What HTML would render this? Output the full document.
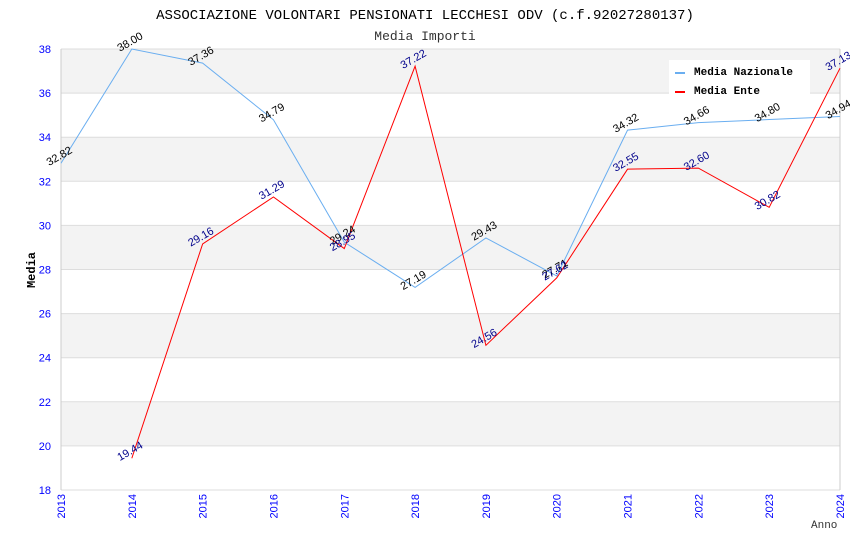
<!DOCTYPE html>
<html><head><meta charset="utf-8"><style>
body{margin:0;background:#fff;width:850px;height:550px;overflow:hidden}
svg text{font-family:"Liberation Sans",sans-serif}
.mono{font-family:"Liberation Mono",monospace}
</style></head><body>
<svg id="c" width="850" height="550">
<text class="mono" x="425" y="19" text-anchor="middle" font-size="14" fill="#000">ASSOCIAZIONE VOLONTARI PENSIONATI LECCHESI ODV (c.f.92027280137)</text>
<text class="mono" x="425" y="40" text-anchor="middle" font-size="13" fill="#333">Media Importi</text>
<g id="bands"></g><g id="grid"></g><g id="axes"></g><g id="series"></g><g id="labels"></g>
<text class="mono" x="35" y="270" font-size="12" font-weight="bold" text-anchor="middle" transform="rotate(-90 35 270)">Media</text>
<text class="mono" x="811" y="528" font-size="11" fill="#333">Anno</text>
<g>
<rect x="669" y="60" width="141" height="36" fill="#fff"/>
<g><rect x="675" y="72" width="10" height="2" fill="#6aaef0"/><text class="mono" x="694" y="75" font-size="11" font-weight="bold">Media Nazionale</text></g>
<g><rect x="675" y="91" width="10" height="2" fill="#f00"/><text class="mono" x="694" y="94" font-size="11" font-weight="bold">Media Ente</text></g>
</g>
</svg>
<script>
const years=[2013,2014,2015,2016,2017,2018,2019,2020,2021,2022,2023,2024];
const nazionale=[32.82,38.00,37.36,34.79,29.24,27.19,29.43,27.71,34.32,34.66,34.80,34.94];
const ente=[null,19.44,29.16,31.29,28.95,37.22,24.56,27.62,32.55,32.60,30.82,37.13];
const yTicks=[18,20,22,24,26,28,30,32,34,36,38];
const X0=61,X1=840,Y0=490,Y1=49,ymin=18,ymax=38;
const xs=i=>X0+(X1-X0)*i/(years.length-1);
const ys=v=>Y0-(v-ymin)/(ymax-ymin)*(Y0-Y1);
const NS="http://www.w3.org/2000/svg";
function mk(p,t,a){const e=document.createElementNS(NS,t);for(const k in a)e.setAttribute(k,a[k]);document.getElementById(p).appendChild(e);return e;}
for(let i=0;i<yTicks.length-1;i++){
 if(i%2===1){const r=mk('bands','rect',{x:X0,y:ys(yTicks[i+1]),width:X1-X0,height:ys(yTicks[i])-ys(yTicks[i+1]),fill:'#f3f3f3'});
 
 }
}
yTicks.forEach(t=>{
 const l=mk('grid','line',{x1:X0,x2:X1,y1:ys(t),y2:ys(t),stroke:'#ddd'});
 
 
 const tx=mk('axes','text',{x:X0-10,y:ys(t)+4,'text-anchor':'end','font-size':11,fill:'#00f'});
 tx.textContent=t;
 
 
});
mk('axes','line',{x1:X0,x2:X0,y1:Y1,y2:Y0,stroke:'#ccc'});
mk('axes','line',{x1:X1,x2:X1,y1:Y1,y2:Y0,stroke:'#ccc'});
years.forEach((y,i)=>{
 const x=xs(i);
 const tx=mk('axes','text',{x:x+4,y:Y0+4,'text-anchor':'end','font-size':11,fill:'#00f',transform:`rotate(-90 ${x+4} ${Y0+4})`});
 tx.textContent=y;
 
 
});
function series(arr,color,lblColor,name){
 const pts=[];arr.forEach((v,i)=>{if(v!==null)pts.push([xs(i),ys(v)]);});
 const p=mk('series','polyline',{points:pts.map(p=>p.join(',')).join(' '),fill:'none',stroke:color,'stroke-width':1});
 
 
 arr.forEach((v,i)=>{if(v===null)return;
  const x=xs(i),y=ys(v)-4;
  const t=mk('labels','text',{x:x,y:y,'text-anchor':'middle','font-size':11,fill:lblColor,transform:`rotate(-30 ${x} ${y})`});
  t.textContent=v.toFixed(2);
  
  
 });
}
series(nazionale,'#6aaef0','#000','nazionale');
series(ente,'#f00','#00008b','ente');
</script>
</body></html>
